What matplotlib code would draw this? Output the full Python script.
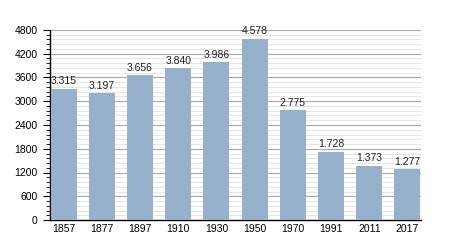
import matplotlib
matplotlib.use('Agg')
import matplotlib.pyplot as plt
from matplotlib.ticker import MultipleLocator

years = ['1857', '1877', '1897', '1910', '1930', '1950', '1970', '1991', '2011', '2017']
population = [3315, 3197, 3656, 3840, 3986, 4578, 2775, 1728, 1373, 1277]

bar_color = '#97b1cc'

plt.rcParams['font.family'] = ['Liberation Sans', 'DejaVu Sans']

fig = plt.figure(figsize=(4.5, 2.5), dpi=100)
ax = fig.add_axes([0.111, 0.12, 0.825, 0.76])

x = range(len(years))
ax.bar(x, population, width=0.68, color=bar_color, zorder=3)

for i, v in enumerate(population):
    label = '{:,}'.format(v).replace(',', '.')
    ax.text(i, v + 60, label, ha='center', va='bottom', fontsize=7.5, color='#222222', zorder=4)

ax.set_xlim(-0.36, len(years) - 0.64)
ax.set_ylim(0, 4800)
ax.set_xticks(list(x))
ax.set_xticklabels(years)
ax.yaxis.set_major_locator(MultipleLocator(600))
ax.yaxis.set_minor_locator(MultipleLocator(120))

ax.grid(which='major', axis='y', color='#a8a8a8', linewidth=0.8, zorder=0)
ax.grid(which='minor', axis='y', color='#e0e0e0', linewidth=0.6, zorder=0)

for s in ['top', 'right']:
    ax.spines[s].set_visible(False)
ax.spines['left'].set_linewidth(1.0)
ax.spines['bottom'].set_linewidth(1.0)

ax.tick_params(axis='y', which='major', length=5, labelsize=7.5, pad=4)
ax.tick_params(axis='y', which='minor', length=3)
ax.tick_params(axis='x', length=0, labelsize=7.5, pad=3)

fig.savefig('out.png', dpi=100)
